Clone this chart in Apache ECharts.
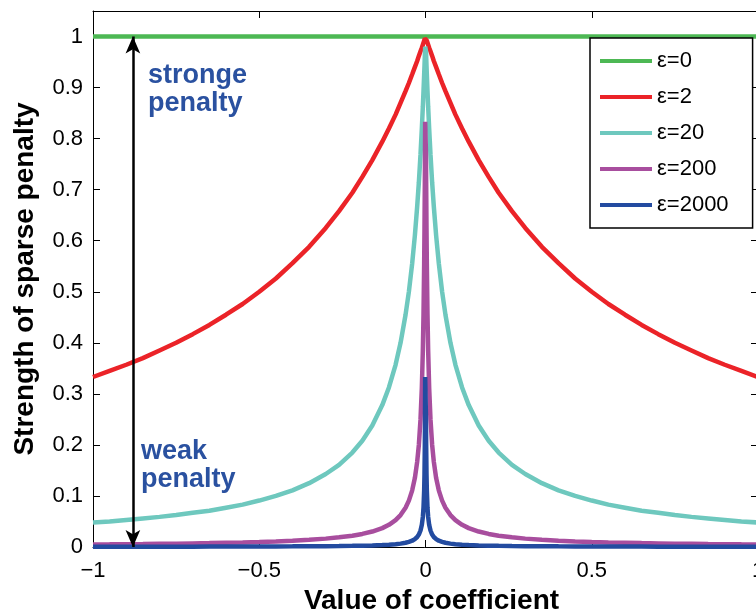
<!DOCTYPE html>
<html>
<head>
<meta charset="utf-8">
<script src="https://cdn.jsdelivr.net/npm/echarts@6/dist/echarts.min.js"></script>
<style>
  html, body { margin: 0; padding: 0; background: #fff; }
  #main { width: 756px; height: 616px; }
</style>
</head>
<body>
<div id="main"></div>
<script>
// 左半边的 x 取样点（右半边对称）
let xLeft = [-1, -0.95, -0.9, -0.85, -0.8, -0.75, -0.7, -0.65, -0.6, -0.55, -0.5, -0.45, -0.4, -0.35, -0.3,
    -0.26, -0.22, -0.19, -0.16, -0.13, -0.11, -0.09, -0.075, -0.06, -0.05, -0.04, -0.032, -0.025, -0.02,
    -0.015, -0.011, -0.008, -0.006, -0.004, -0.003, -0.002, -0.0015, -0.001];
// 各条曲线读出来的数值（左半边）
let eps2 = [0.333, 0.345, 0.357, 0.370, 0.385, 0.4, 0.417, 0.435, 0.455, 0.476, 0.5, 0.526, 0.556, 0.588, 0.625,
    0.658, 0.694, 0.725, 0.758, 0.794, 0.820, 0.847, 0.870, 0.893, 0.909, 0.926, 0.940, 0.952, 0.962,
    0.971, 0.978, 0.984, 0.988, 0.992, 0.994, 0.996, 0.997, 0.998];
let eps20 = [0.048, 0.05, 0.053, 0.056, 0.059, 0.0625, 0.067, 0.071, 0.077, 0.083, 0.091, 0.1, 0.111, 0.125, 0.143,
    0.161, 0.185, 0.208, 0.238, 0.278, 0.3125, 0.357, 0.4, 0.455, 0.5, 0.556, 0.610, 0.667, 0.714,
    0.769, 0.820, 0.862, 0.893, 0.926, 0.943, 0.962, 0.971, 0.980];
let eps200 = [0.005, 0.0052, 0.0055, 0.0058, 0.0062, 0.0066, 0.0071, 0.0076, 0.0083, 0.009, 0.0099, 0.011, 0.0123, 0.0141, 0.0164,
    0.0189, 0.0222, 0.0256, 0.0303, 0.037, 0.0435, 0.0526, 0.0625, 0.0769, 0.0909, 0.111, 0.135, 0.167, 0.2,
    0.25, 0.3125, 0.385, 0.455, 0.556, 0.625, 0.714, 0.769, 0.833];
let eps2000 = [0.0005, 0.00053, 0.00056, 0.00059, 0.00062, 0.00067, 0.00071, 0.00077, 0.00083, 0.00091, 0.001, 0.0011, 0.00125, 0.00143, 0.00167,
    0.00192, 0.00227, 0.00263, 0.00312, 0.00383, 0.00452, 0.00552, 0.00662, 0.00826, 0.01, 0.0123, 0.0154, 0.0196, 0.0244,
    0.0323, 0.0435, 0.0588, 0.0769, 0.111, 0.143, 0.2, 0.25, 0.333];
let eps0X = [-1, 1];
let eps0 = [1, 1];
let names = ['ε=0', 'ε=2', 'ε=20', 'ε=200', 'ε=2000'];
let colors = ['#4db854', '#eb2328', '#6ec8be', '#a84e9e', '#234ba0'];

// 曲线左右对称，拼出完整的点
function pts(xs, ys) {
    let left = xs.map((x, i) => [x, ys[i]]);
    let right = left.slice().reverse().map(p => [-p[0], p[1]]);
    return left.concat(right);
}

let font = "'Liberation Sans', Arial, sans-serif";
let fmt = v => {
    let r = Math.round(v * 10) / 10;
    return r < 0 ? '\u2212' + (-r) : String(r);
};

let myChart = echarts.init(document.getElementById('main'));
let lineOf = (name, data, color) => ({
    name: name,
    type: 'line',
    data: data,
    symbol: 'none',
    animation: false,
    lineStyle: { width: 4.5, color: color },
    itemStyle: { color: color }
});

let series = [
    lineOf(names[0], eps0X.map((x, i) => [x, eps0[i]]), colors[0]),
    lineOf(names[1], pts(xLeft, eps2), colors[1]),
    lineOf(names[2], pts(xLeft, eps20), colors[2]),
    lineOf(names[3], pts(xLeft, eps200), colors[3]),
    lineOf(names[4], pts(xLeft, eps2000), colors[4])
];
// 双向箭头
series[0].markLine = {
    silent: true,
    animation: false,
    symbol: ['arrow', 'arrow'],
    symbolSize: [11, 17],
    label: { show: false },
    lineStyle: { color: '#000', width: 2.5, type: 'solid' },
    data: [[{ coord: [-0.88, 0] }, { coord: [-0.88, 1] }]]
};

let tickStyle = { inside: true, length: 7, lineStyle: { color: '#000' } };
let option = {
    backgroundColor: '#fff',
    animation: false,
    grid: { left: 93, top: 11, width: 665, height: 536, outerBoundsMode: 'none', containLabel: false },
    legend: {
        data: names,
        orient: 'vertical',
        left: 590,
        top: 38,
        icon: 'rect',
        itemWidth: 52,
        itemHeight: 4,
        itemGap: 14,
        padding: [12, 24, 12, 10],
        backgroundColor: '#fff',
        borderColor: '#000',
        borderWidth: 1.5,
        borderRadius: 0,
        textStyle: { fontFamily: font, fontSize: 22, color: '#000', lineHeight: 22 }
    },
    xAxis: [{
        type: 'value', min: -1, max: 1, interval: 0.5,
        name: 'Value of coefficient', nameLocation: 'middle', nameGap: 40,
        nameTextStyle: { fontFamily: font, fontSize: 28, fontWeight: 'bold', color: '#000', padding: [0, 0, 0, 12] },
        axisLine: { onZero: false, lineStyle: { color: '#000', width: 1 } },
        axisTick: tickStyle,
        axisLabel: { fontFamily: font, fontSize: 22, color: '#000', margin: 13, formatter: fmt },
        splitLine: { show: false }
    }, {
        type: 'value', min: -1, max: 1, interval: 0.5, position: 'top',
        axisLine: { onZero: false, lineStyle: { color: '#000', width: 1 } },
        axisTick: tickStyle,
        axisLabel: { show: false },
        splitLine: { show: false }
    }],
    yAxis: [{
        type: 'value', min: 0, max: 1.05, interval: 0.1,
        name: 'Strength of sparse penalty', nameLocation: 'middle', nameGap: 54,
        nameTextStyle: { fontFamily: font, fontSize: 28, fontWeight: 'bold', color: '#000' },
        axisLine: { show: true, onZero: false, lineStyle: { color: '#000', width: 1 } },
        axisTick: Object.assign({ show: true }, tickStyle),
        axisLabel: {
            fontFamily: font, fontSize: 22, color: '#000', margin: 10,
            formatter: v => v > 1.001 ? '' : fmt(v)
        },
        splitLine: { show: false }
    }, {
        type: 'value', min: 0, max: 1.05, interval: 0.1, position: 'right',
        axisLine: { show: true, onZero: false, lineStyle: { color: '#000', width: 1 } },
        axisTick: Object.assign({ show: true }, tickStyle),
        axisLabel: { show: false },
        splitLine: { show: false }
    }],
    graphic: [{
        type: 'text', left: 148, top: 62,
        style: { text: 'stronge\npenalty', fill: '#2a51a0', font: 'bold 27px ' + font, lineHeight: 28 }
    }, {
        type: 'text', left: 141, top: 438,
        style: { text: 'weak\npenalty', fill: '#2a51a0', font: 'bold 27px ' + font, lineHeight: 28 }
    }],
    series: series
};
myChart.setOption(option);
</script>
</body>
</html>
